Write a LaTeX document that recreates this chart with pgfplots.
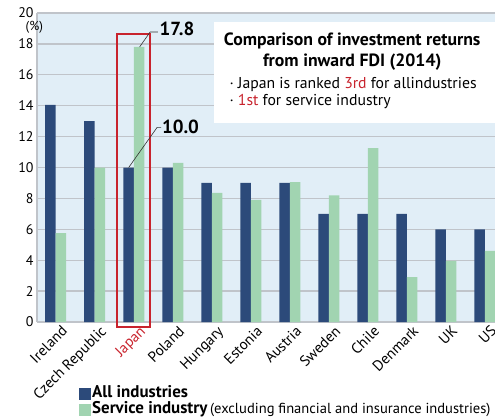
\documentclass[border=0pt]{standalone}
\usepackage{fontspec}
\setmainfont{PT Sans}
\usepackage{pgfplots}
\pgfplotsset{compat=1.18}
\definecolor{navy}{RGB}{44,74,122}
\definecolor{mint}{RGB}{161,212,177}
\definecolor{bgblue}{RGB}{225,238,247}
\definecolor{gridgray}{RGB}{192,196,202}
\definecolor{jred}{RGB}{200,35,45}

\begin{document}
\begin{tikzpicture}
\useasboundingbox (0,-418bp) rectangle (495bp,0);
\begin{axis}[
  at={(37bp,-322bp)}, anchor=south west,
  scale only axis, width=458bp, height=309bp,
  ybar=0pt, bar width=10.5bp,
  xmin=-0.48, xmax=11.26, ymin=0, ymax=20,
  ytick={0,2,...,20}, xtick={0,...,11},
  xticklabels={Ireland,Czech Republic,\textcolor{jred}{Japan},Poland,Hungary,Estonia,Austria,Sweden,Chile,Denmark,UK,US},
  major tick length=0pt,
  axis x line*=bottom, axis y line*=left,
  axis line style={-, draw=gridgray, line width=1.2pt},
  ymajorgrids, grid style={draw=gridgray, line width=1.3pt},
  axis background/.style={fill=bgblue},
  /pgf/number format/assume math mode=true,
  yticklabel style={font=\fontsize{14}{14}\selectfont},
  xticklabel style={font=\fontsize{15}{15}\selectfont, rotate=45, anchor=north east, xshift=5bp, yshift=-2bp},
  clip=false,
  legend style={at={(0.0917,-0.205)}, anchor=north west, draw=none, fill=none,
    inner sep=0pt, row sep=0pt,
    nodes={inner sep=1bp, text height=11bp, text depth=3bp},
    /tikz/every even column/.append style={column sep=0bp}},
  legend cell align=left,
  legend image code/.code={\fill[#1,draw=none] (0bp,-6bp) rectangle (12bp,6bp);},
]
\addplot[fill=navy, draw=none] coordinates {
  (0,14.05) (1,13) (2,10) (3,10) (4,9) (5,9) (6,9) (7,7) (8,7) (9,7) (10,6) (11,6)};
\addlegendentry{\fontsize{17}{17}\selectfont\bfseries All industries}
\addplot[fill=mint, draw=none] coordinates {
  (0,5.75) (1,10) (2,17.8) (3,10.3) (4,8.35) (5,7.9) (6,9.05) (7,8.2) (8,11.25) (9,2.9) (10,3.95) (11,4.6)};
\addlegendentry{\fontsize{17}{17}\selectfont\bfseries Service industry\,\fontsize{14.6}{14.6}\selectfont\mdseries(excluding financial and insurance industries)}

% highlight box around Japan
\draw[jred, line width=2bp] (axis cs:1.564,-0.32) rectangle (axis cs:2.41,18.64);
% value call-outs
\draw[black!80, line width=0.6bp] (axis cs:2.15,17.8) -- (axis cs:2.42,18.77) -- (axis cs:2.62,18.77);
\node[anchor=west, inner sep=0pt, font=\fontsize{19}{19}\selectfont\bfseries] at (axis cs:2.66,18.95) {17.8};
\draw[black!80, line width=0.6bp] (axis cs:1.87,10) -- (axis cs:2.6,12.6) -- (axis cs:2.7,12.6);
\node[anchor=west, inner sep=0pt, font=\fontsize{19}{19}\selectfont\bfseries] at (axis cs:2.72,12.65) {10.0};
% unit
\node[font=\fontsize{13}{13}\selectfont] at (axis cs:-0.55,19.1) {(\%)};
% text box
\fill[white] (axis cs:4.06,12.88) rectangle (axis cs:11.4,19.42);
\node[font=\fontsize{17.8}{17.8}\selectfont\bfseries] at (axis cs:7.6,18.2) {Comparison of investment returns};
\node[font=\fontsize{17.8}{17.8}\selectfont\bfseries] at (axis cs:7.6,16.8) {from inward FDI (2014)};
\node[anchor=west, font=\fontsize{15.8}{15.8}\selectfont, inner sep=0pt] at (axis cs:4.45,15.4) {· Japan is ranked \textcolor{jred}{3rd} for allindustries};
\node[anchor=west, font=\fontsize{15.8}{15.8}\selectfont, inner sep=0pt] at (axis cs:4.45,14.24) {· \textcolor{jred}{1st} for service industry};
\end{axis}
\end{tikzpicture}
\end{document}
